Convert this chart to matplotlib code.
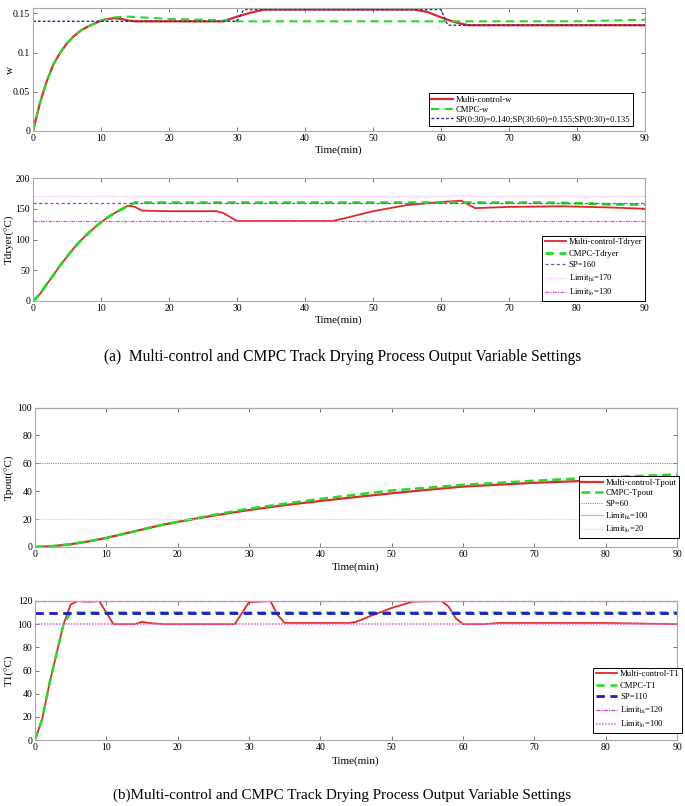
import matplotlib
matplotlib.use("Agg")
import matplotlib.pyplot as plt

plt.rcParams['font.family'] = ['Liberation Serif', 'DejaVu Serif']
plt.rcParams['mathtext.fontset'] = 'stix'

# --- DATOS ---
# (a) w
w_t = [0, 1, 2, 3, 4, 5, 6, 7, 8, 9, 10, 11, 12, 13, 14, 15, 20, 25, 28, 30, 32, 34, 40, 50, 56, 58, 60, 62, 64, 70, 80, 90]
w_multi = [0, 0.035, 0.063, 0.085, 0.100, 0.112, 0.121, 0.128, 0.133, 0.137, 0.141, 0.143, 0.144, 0.143, 0.141,
           0.140, 0.140, 0.140, 0.140, 0.146, 0.151, 0.155, 0.155, 0.155, 0.155, 0.152, 0.145, 0.139, 0.135,
           0.135, 0.135, 0.135]
w_cmpc_t = [0, 1, 2, 3, 4, 5, 6, 7, 8, 9, 10, 12, 14, 16, 20, 25, 28, 30, 40, 50, 60, 70, 80, 85, 90]
w_cmpc = [0, 0.035, 0.063, 0.085, 0.100, 0.112, 0.121, 0.128, 0.133, 0.137, 0.141, 0.145, 0.146, 0.145, 0.143,
          0.142, 0.141, 0.140, 0.140, 0.140, 0.140, 0.140, 0.140, 0.141, 0.142]
w_sp_t = [0, 30, 31, 60, 61, 90]
w_sp = [0.140, 0.140, 0.155, 0.155, 0.135, 0.135]

# (a) Tdryer
td_t = [0, 1, 2, 3, 4, 5, 6, 7, 8, 9, 10, 11, 12, 13, 14, 15, 16, 20, 27, 28, 30, 35, 44, 46, 50, 55, 60, 63,
        64, 65, 70, 78, 85, 90]
td_multi = [0, 11, 27, 42, 58, 72, 86, 98, 109, 119, 128, 136, 143, 149, 155, 153, 147, 146, 146, 143, 130, 130,
            130, 135, 146, 156, 161, 163, 157, 151, 153, 154, 152, 150]
td_cmpc_t = [0, 1, 2, 3, 4, 5, 6, 7, 8, 9, 10, 11, 12, 13, 14, 15, 20, 75, 80, 85, 90]
td_cmpc = [0, 11, 27, 42, 58, 72, 86, 98, 109, 119, 128, 136, 143, 149, 155, 160, 160, 160, 159, 157, 157]
td_sp, td_hi, td_lo = 160, 170, 130

# (b) Tpout
tp_t = [0, 2.5, 5, 7.5, 10, 12.5, 15, 17.5, 20, 25, 30, 35, 40, 45, 50, 55, 60, 65, 70, 75, 80, 85, 90]
tp_multi = [0, 0.6, 2, 4, 6.5, 9.5, 12.5, 15.5, 18, 22.5, 26.5, 30, 33, 35.8, 38.5, 41, 43.3, 44.7, 46, 47, 48,
            49, 49.5]
tp_cmpc = [0, 0.6, 2, 4, 6.5, 9.5, 12.5, 15.5, 18, 23, 27.5, 31, 34.5, 37.5, 40.5, 42.5, 44.5, 46, 47.5, 48.8,
           50, 51, 52]
tp_sp, tp_hi, tp_lo = 60, 100, 20

# (b) T1
t1_t = [0, 1, 2, 3, 4, 5, 6, 7, 8, 9, 10, 11, 14, 15, 16, 18, 28, 30, 33, 34, 35, 44, 45, 47, 50, 53, 57, 58,
        59, 60, 63, 65, 80, 90]
t1_multi = [0, 18, 48, 74, 100, 117, 120, 119.5, 119.5, 120, 110, 100, 100, 102, 101, 100, 100, 119, 120, 108,
            101, 101, 102, 107, 114, 119.5, 120, 115, 105, 100, 100, 101, 101, 100]
t1_cmpc_t = [0, 1, 2, 3, 4, 5, 6, 90]
t1_cmpc = [0, 18, 48, 74, 100, 110, 110, 110]
t1_sp, t1_hi, t1_lo = 110, 120, 100

ROJO = '#e02828'
VERDE = '#22dd22'
H = 806.0


def caja(izq, der, arriba, abajo):
    # posiciones en pixeles -> fracción de figura
    return [izq / 685.0, 1 - abajo / H, (der - izq) / 685.0, (abajo - arriba) / H]


def estilo(ax, ylim, yticks, ylabel, ylab_x, xlab_y):
    ax.set_xlim(0, 90)
    ax.set_ylim(*ylim)
    ax.set_xticks(range(0, 91, 10))
    ax.set_yticks(yticks)
    ax.tick_params(direction='in', top=True, right=True, labelsize=7, length=3, width=0.6,
                   color='#606060', pad=2)
    for s in ax.spines.values():
        s.set_color('#a8a8a8')
        s.set_linewidth(0.8)
    ax.set_ylabel(ylabel, fontsize=8)
    ax.yaxis.set_label_coords(ylab_x, 0.5)
    ax.set_xlabel('Time(min)', fontsize=8)
    ax.xaxis.set_label_coords(0.5, xlab_y)


def leyenda(ax, anchor, spacing):
    lg = ax.legend(loc='lower right', bbox_to_anchor=anchor, fontsize=6.2, frameon=True, fancybox=False,
                   edgecolor='black', framealpha=1, handlelength=2.5, borderpad=0.3, labelspacing=spacing,
                   handletextpad=0.3, borderaxespad=0)
    lg.get_frame().set_linewidth(0.7)


fig = plt.figure(figsize=(6.85, 8.06), dpi=100)

# Gráfica 1: w
ax1 = fig.add_axes(caja(33, 645, 8, 131))
ax1.plot(w_t, w_multi, color=ROJO, lw=1.6, label='Multi-control-w')
ax1.plot(w_cmpc_t, w_cmpc, color=VERDE, lw=1.5, ls=(0, (4, 2.5)), label='CMPC-w')
ax1.plot(w_sp_t, w_sp, color='#2a2a9a', lw=1.0, ls=(0, (2, 1.5)),
         label='SP(0:30)=0.140;SP(30:60)=0.155;SP(0:30)=0.135')
estilo(ax1, (0, 0.157), [0, 0.05, 0.1, 0.15], 'w', -0.029, -0.12)
ax1.set_yticklabels(['0', '0.05', '0.1', '0.15'])
leyenda(ax1, (0.98, 0.04), 0.2)

# Gráfica 2: Tdryer
ax2 = fig.add_axes(caja(33, 645, 178, 301))
ax2.plot(td_t, td_multi, color=ROJO, lw=1.3, label='Multi-control-Tdryer')
ax2.plot(td_cmpc_t, td_cmpc, color=VERDE, lw=2.0, ls=(0, (3, 2)), label='CMPC-Tdryer')
ax2.axhline(td_sp, color='#6060c8', lw=0.9, ls=(0, (2.5, 2)), label='SP=160')
ax2.axhline(td_hi, color='#f4b8f4', lw=0.9, ls=(0, (1, 1)), label=r'Limit$_{\mathrm{hi}}$=170')
ax2.axhline(td_lo, color='#d850d8', lw=0.9, ls=(0, (3, 1, 1, 1)), label=r'Limit$_{\mathrm{lo}}$=130')
estilo(ax2, (0, 200), range(0, 201, 50), 'Tdryer(°C)', -0.029, -0.12)
leyenda(ax2, (1.0, 0.0), 0.4)

fig.text(0.5, 1 - 357 / H, '(a)  Multi-control and CMPC Track Drying Process Output Variable Settings',
         ha='center', va='center', fontsize=11.2)

# Gráfica 3: Tpout
ax3 = fig.add_axes(caja(35, 677, 407.5, 547))
ax3.plot(tp_t, tp_multi, color=ROJO, lw=1.6, label='Multi-control-Tpout')
ax3.plot(tp_t, tp_cmpc, color=VERDE, lw=1.8, ls=(0, (3.5, 2)), label='CMPC-Tpout')
ax3.axhline(tp_sp, color='#909090', lw=0.8, ls=(0, (1, 1)), label='SP=60')
ax3.axhline(tp_hi, color='#e8a0e8', lw=0.9, clip_on=False, label=r'Limit$_{\mathrm{hi}}$=100')
ax3.axhline(tp_lo, color='#f4c0f4', lw=0.9, ls=(0, (1, 1)), label=r'Limit$_{\mathrm{lo}}$=20')
estilo(ax3, (0, 100), range(0, 101, 20), 'Tpout(°C)', -0.031, -0.11)
leyenda(ax3, (1.003, 0.065), 0.3)

# Gráfica 4: T1 (verde con el mismo patrón que SP para que quede tapado)
ax4 = fig.add_axes(caja(35, 677, 601, 740))
ax4.plot(t1_t, t1_multi, color=ROJO, lw=1.3, label='Multi-control-T1')
ax4.plot(t1_cmpc_t, t1_cmpc, color=VERDE, lw=1.8, ls=(0, (3.33, 2.22)), label='CMPC-T1')
ax4.axhline(t1_sp, color='#1a1ad0', lw=2.0, ls=(0, (3, 2)), label='SP=110')
ax4.axhline(t1_hi, color='#c030c8', lw=0.9, ls=(0, (3, 1, 1, 1)), clip_on=False,
            label=r'Limit$_{\mathrm{hi}}$=120')
ax4.axhline(t1_lo, color='#e070e8', lw=1.2, ls=(0, (1, 0.8)), label=r'Limit$_{\mathrm{lo}}$=100')
estilo(ax4, (0, 120), range(0, 121, 20), 'T1(°C)', -0.031, -0.12)
leyenda(ax4, (1.008, 0.05), 0.4)

fig.text(0.5, 1 - 795 / H, '(b)Multi-control and CMPC Track Drying Process Output Variable Settings',
         ha='center', va='center', fontsize=10.9)

fig.savefig('out.png', dpi=100)
